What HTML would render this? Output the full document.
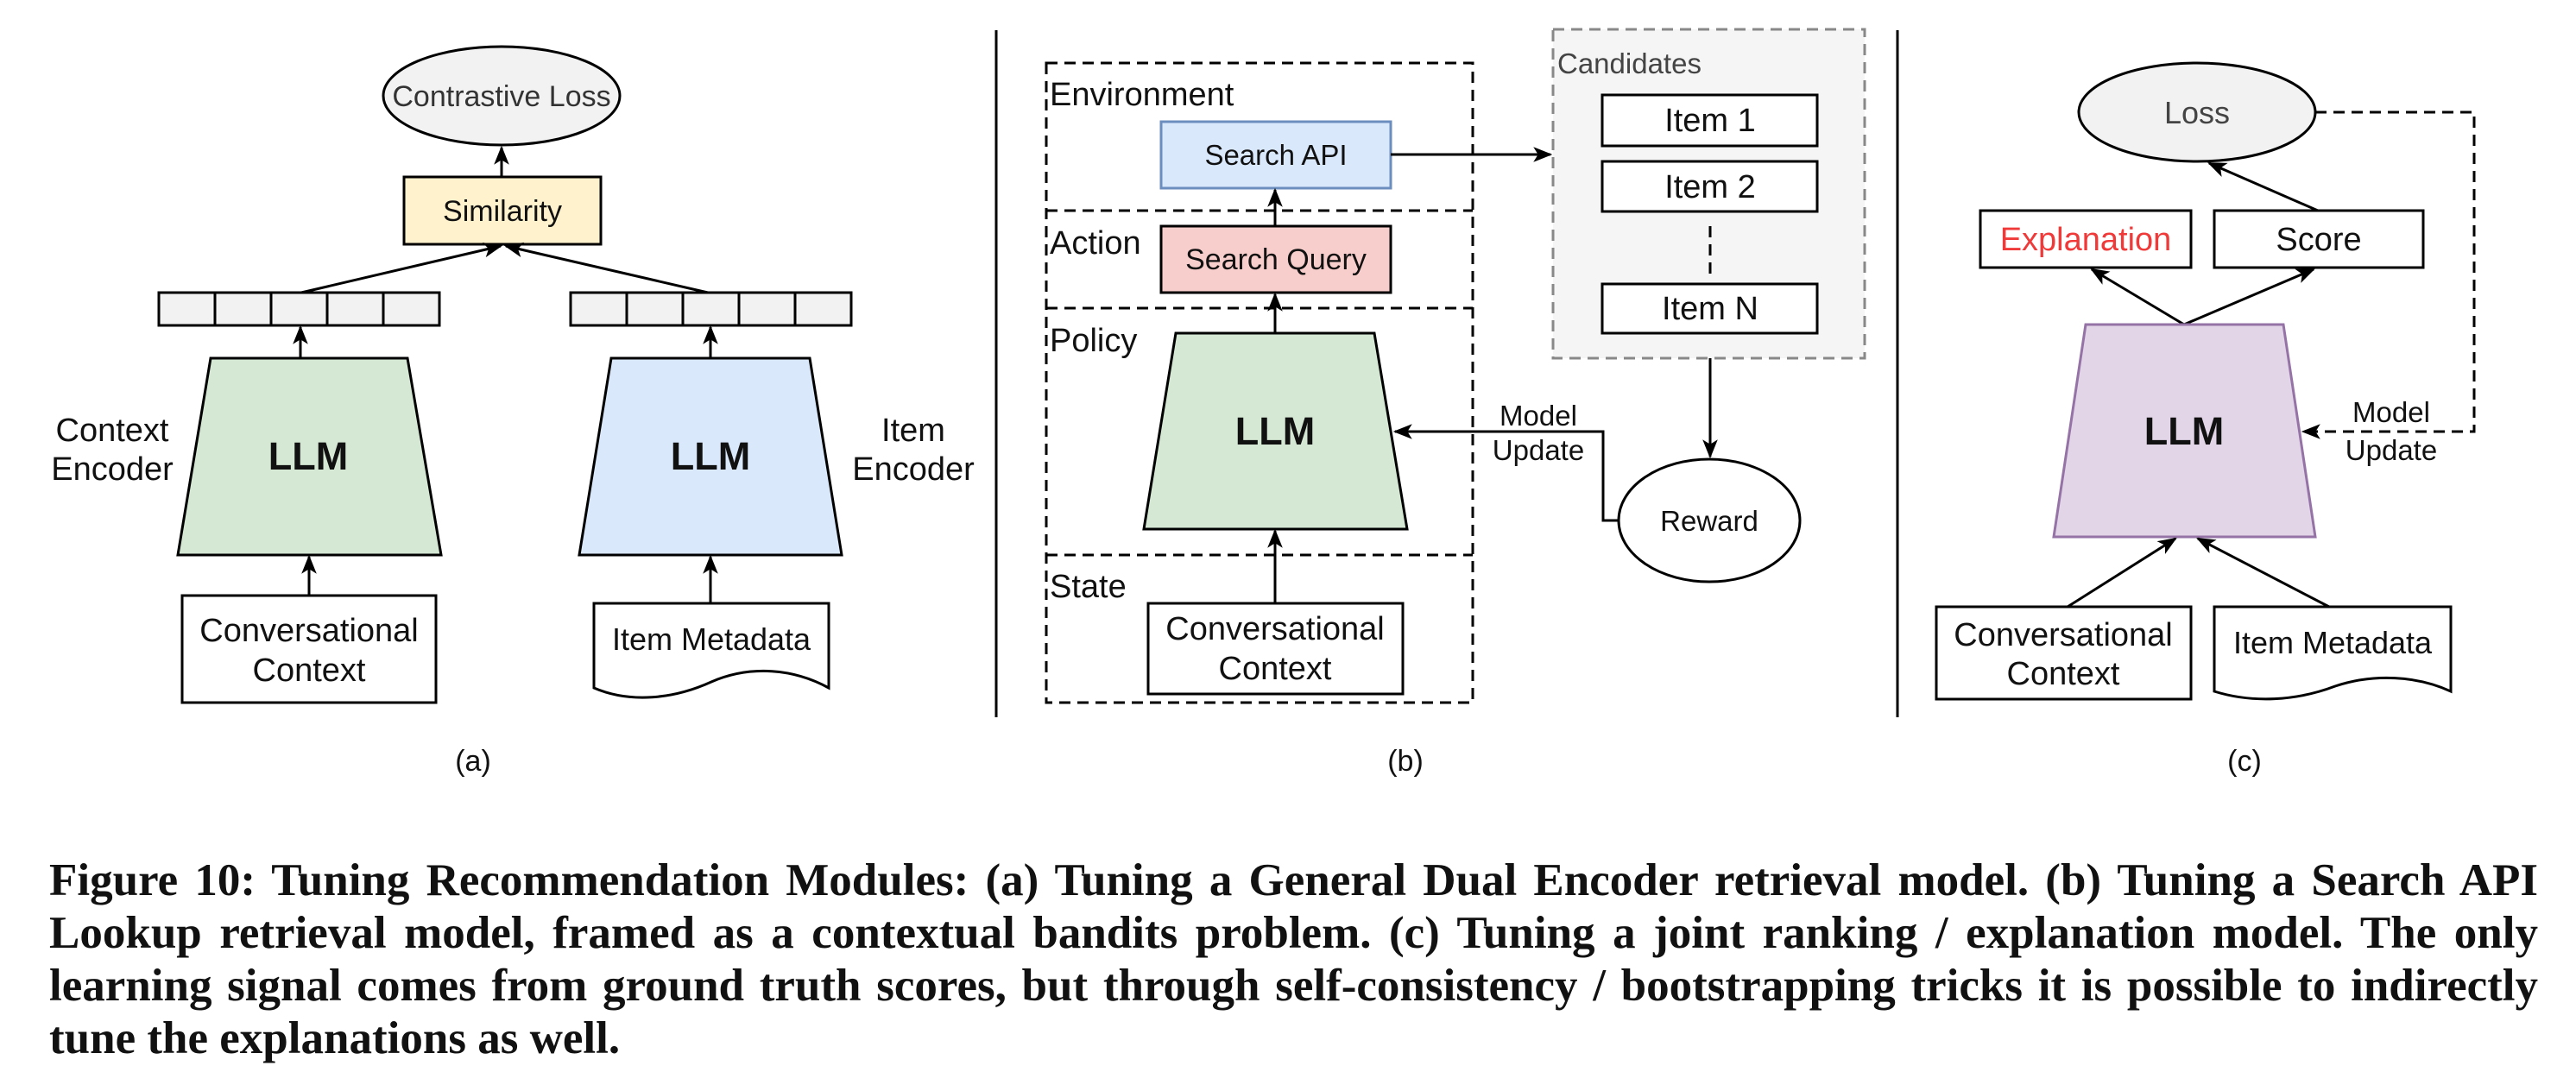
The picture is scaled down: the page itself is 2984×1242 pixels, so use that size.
<!DOCTYPE html>
<html><head><meta charset="utf-8"><style>
html,body{margin:0;padding:0;background:#fff;}
body{width:2984px;height:1242px;overflow:hidden;position:relative;}
svg{position:absolute;left:0;top:0;}
.cap{position:absolute;left:57px;width:2883px;font-family:"Liberation Serif",serif;font-weight:bold;font-size:53px;line-height:60px;color:#111;white-space:nowrap;text-align:justify;text-align-last:justify;}
</style></head><body>
<svg width="2984" height="920" viewBox="0 0 2984 920" font-family="Liberation Sans, Arial, sans-serif">
<defs>
<marker id="a" viewBox="0 0 20 20" refX="18" refY="10" markerWidth="22" markerHeight="22" markerUnits="userSpaceOnUse" orient="auto"><path d="M0,2 L20,10 L0,18 L5,10 Z" fill="#000"/></marker>
</defs>
<g stroke="#000" stroke-width="3" fill="none">
<line x1="1154" y1="35" x2="1154" y2="831"/>
<line x1="2198" y1="35" x2="2198" y2="831"/>

<ellipse cx="581" cy="111" rx="137" ry="57" fill="#f2f2f2"/>
<rect x="468" y="205" width="228" height="78" fill="#fff2cc"/>
<line x1="581" y1="205" x2="581" y2="171" marker-end="url(#a)"/>
<line x1="349" y1="339" x2="580" y2="285" marker-end="url(#a)"/>
<line x1="820" y1="339" x2="586" y2="285" marker-end="url(#a)"/>
<rect x="184" y="339" width="325" height="38" fill="#f2f2f2"/>
<line x1="249" y1="339" x2="249" y2="377"/><line x1="314" y1="339" x2="314" y2="377"/><line x1="379" y1="339" x2="379" y2="377"/><line x1="444" y1="339" x2="444" y2="377"/>
<rect x="661" y="339" width="325" height="38" fill="#f2f2f2"/>
<line x1="726" y1="339" x2="726" y2="377"/><line x1="791" y1="339" x2="791" y2="377"/><line x1="856" y1="339" x2="856" y2="377"/><line x1="921" y1="339" x2="921" y2="377"/>
<line x1="348" y1="415" x2="348" y2="379" marker-end="url(#a)"/>
<line x1="823" y1="415" x2="823" y2="379" marker-end="url(#a)"/>
<polygon points="244,415 472,415 511,643 206,643" fill="#d5e8d4"/>
<polygon points="708,415 938,415 975,643 671,643" fill="#dae8fc"/>
<line x1="358" y1="690" x2="358" y2="645" marker-end="url(#a)"/>
<line x1="823" y1="699" x2="823" y2="645" marker-end="url(#a)"/>
<rect x="211" y="690" width="294" height="124" fill="#fff"/>
<path d="M688,699 H960 V797 C920,775 870,770 824,790 C780,810 730,815 688,797 Z" fill="#fff"/>

<g stroke-dasharray="13,8">
<rect x="1799" y="34" width="361" height="381" fill="#f5f5f5" stroke="#888"/>
<rect x="1212" y="73" width="494" height="741"/>
<line x1="1212" y1="244" x2="1706" y2="244"/>
<line x1="1212" y1="357" x2="1706" y2="357"/>
<line x1="1212" y1="643" x2="1706" y2="643"/>
<line x1="1981" y1="262" x2="1981" y2="320"/>
</g>
<rect x="1345" y="141" width="266" height="77" fill="#dae8fc" stroke="#6c8ebf"/>
<rect x="1345" y="262" width="266" height="77" fill="#f8cecc"/>
<line x1="1477" y1="262" x2="1477" y2="220" marker-end="url(#a)"/>
<line x1="1477" y1="386" x2="1477" y2="341" marker-end="url(#a)"/>
<polygon points="1362,386 1592,386 1630,613 1325,613" fill="#d5e8d4"/>
<line x1="1477" y1="699" x2="1477" y2="615" marker-end="url(#a)"/>
<rect x="1330" y="699" width="295" height="105" fill="#fff"/>
<line x1="1611" y1="179" x2="1796" y2="179" marker-end="url(#a)"/>
<rect x="1856" y="110" width="249" height="59" fill="#fff"/>
<rect x="1856" y="187" width="249" height="58" fill="#fff"/>
<rect x="1856" y="329" width="249" height="57" fill="#fff"/>
<line x1="1981" y1="415" x2="1981" y2="529" marker-end="url(#a)"/>
<ellipse cx="1980" cy="603" rx="105" ry="71" fill="#fff"/>
<polyline points="1875,603 1857,603 1857,500 1616,500" marker-end="url(#a)"/>

<ellipse cx="2545" cy="130" rx="137" ry="57" fill="#f2f2f2"/>
<rect x="2294" y="244" width="244" height="66" fill="#fff"/>
<rect x="2565" y="244" width="242" height="66" fill="#fff"/>
<line x1="2685" y1="244" x2="2559" y2="189" marker-end="url(#a)"/>
<line x1="2530" y1="376" x2="2423" y2="312" marker-end="url(#a)"/>
<line x1="2530" y1="376" x2="2680" y2="312" marker-end="url(#a)"/>
<polygon points="2416,376 2645,376 2682,622 2379,622" fill="#e1d5e7" stroke="#9673a6"/>
<line x1="2395" y1="703" x2="2520" y2="624" marker-end="url(#a)"/>
<line x1="2698" y1="703" x2="2546" y2="624" marker-end="url(#a)"/>
<rect x="2243" y="703" width="295" height="107" fill="#fff"/>
<path d="M2565,703 H2839 V801 C2800,783 2750,780 2705,795 C2660,812 2610,815 2565,801 Z" fill="#fff"/>
<polyline points="2682,130 2866,130 2866,500 2668,500" stroke-dasharray="13,8" marker-end="url(#a)"/>
</g>

<g fill="#111" font-size="38" text-anchor="middle">
<text x="581" y="123" font-size="34" fill="#333">Contrastive Loss</text>
<text x="582" y="256" font-size="34">Similarity</text>
<text x="357" y="544" font-size="45" font-weight="bold">LLM</text>
<text x="823" y="544" font-size="45" font-weight="bold">LLM</text>
<text x="130" y="511">Context</text><text x="130" y="556">Encoder</text>
<text x="1058" y="511">Item</text><text x="1058" y="556">Encoder</text>
<text x="358" y="743">Conversational</text><text x="358" y="789">Context</text>
<text x="824" y="753" font-size="36">Item Metadata</text>
<text x="548" y="893" font-size="34">(a)</text>

<text x="1216" y="122" text-anchor="start">Environment</text>
<text x="1216" y="294" text-anchor="start">Action</text>
<text x="1216" y="407" text-anchor="start">Policy</text>
<text x="1216" y="692" text-anchor="start">State</text>
<text x="1478" y="191" font-size="33">Search API</text>
<text x="1478" y="312" font-size="34">Search Query</text>
<text x="1477" y="515" font-size="45" font-weight="bold">LLM</text>
<text x="1477" y="741">Conversational</text><text x="1477" y="787">Context</text>
<text x="1804" y="85" font-size="33" text-anchor="start" fill="#444">Candidates</text>
<text x="1981" y="152">Item 1</text>
<text x="1981" y="229">Item 2</text>
<text x="1981" y="370">Item N</text>
<text x="1980" y="615" font-size="33">Reward</text>
<text x="1782" y="493" font-size="33">Model</text>
<text x="1782" y="533" font-size="33">Update</text>
<text x="1628" y="893" font-size="34">(b)</text>

<text x="2545" y="143" font-size="36" fill="#444">Loss</text>
<text x="2416" y="290" fill="#f03a3a">Explanation</text>
<text x="2686" y="290">Score</text>
<text x="2530" y="515" font-size="45" font-weight="bold">LLM</text>
<text x="2390" y="748">Conversational</text><text x="2390" y="793">Context</text>
<text x="2702" y="757" font-size="36">Item Metadata</text>
<text x="2770" y="489" font-size="33">Model</text>
<text x="2770" y="533" font-size="33">Update</text>
<text x="2600" y="893" font-size="34">(c)</text>
</g>
</svg>
<div class="cap" style="top:990px">Figure 10: Tuning Recommendation Modules: (a) Tuning a General Dual Encoder retrieval model. (b) Tuning a Search API</div>
<div class="cap" style="top:1051px">Lookup retrieval model, framed as a contextual bandits problem. (c) Tuning a joint ranking / explanation model. The only</div>
<div class="cap" style="top:1112px">learning signal comes from ground truth scores, but through self-consistency / bootstrapping tricks it is possible to indirectly</div>
<div class="cap" style="top:1173px;text-align:left;text-align-last:left">tune the explanations as well.</div>
</body></html>
